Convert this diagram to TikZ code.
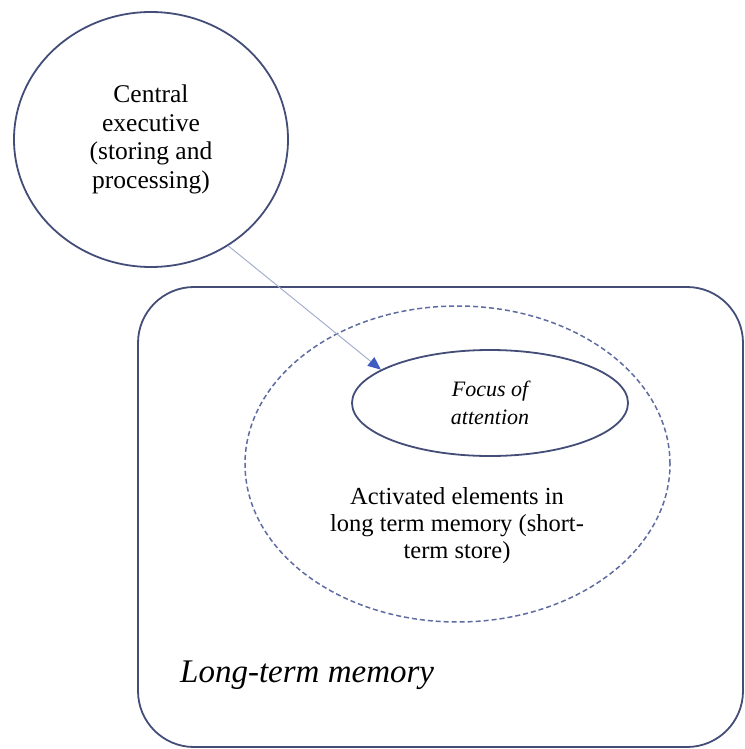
\documentclass[tikz,border=0pt]{standalone}
\usepackage{fontspec}
\setmainfont{Liberation Serif}
\usetikzlibrary{shapes.geometric,arrows.meta}
\definecolor{outline}{HTML}{434D78}
\definecolor{dashline}{HTML}{5E6CA0}
\definecolor{arrowline}{HTML}{A6AFCE}
\definecolor{arrowhead}{HTML}{3F5BC4}
\tikzset{
  x=1pt, y=-1pt,
  solidshape/.style={draw=outline, line width=1.8pt, inner sep=0pt},
  dashshape/.style={draw=dashline, line width=1.5pt, dash pattern=on 5pt off 3pt, inner sep=0pt},
  plaintext/.style={inner sep=0pt, align=center},
  linkarrow/.style={draw=arrowline, line width=1pt,
    -{Triangle[length=13pt,width=11pt,color=arrowhead,fill=arrowhead]}}
}
\begin{document}
\begin{tikzpicture}
  \useasboundingbox (0,0) rectangle (744,749);
  % long-term memory frame
  \node[solidshape, rectangle, rounded corners=56pt, minimum width=605pt, minimum height=460pt]
    (ltm) at (440.5,517) {};
  \node[plaintext, anchor=base west, font=\fontsize{33}{38}\selectfont\itshape]
    (ltmlabel) at (180,682) {Long-term memory};
  % short-term store
  \node[dashshape, ellipse, minimum width=425pt, minimum height=316pt]
    (sts) at (457.5,464) {};
  \node[plaintext, font=\fontsize{24.5}{27}\selectfont]
    (stslabel) at (457,526) {Activated elements in\\long term memory (short-\\term store)};
  % focus of attention
  \node[solidshape, ellipse, minimum width=276pt, minimum height=106pt,
        font=\fontsize{22}{28}\selectfont\itshape, align=center]
    (foc) at (490,403) {Focus of\\attention};
  % central executive
  \node[solidshape, ellipse, minimum width=274pt, minimum height=255pt,
        font=\fontsize{25.5}{28.5}\selectfont, align=center]
    (ce) at (151,139.5) {Central\\executive\\(storing and\\processing)};
  % link
  \draw[linkarrow] (ce.-54) -- (foc.163);
\end{tikzpicture}
\end{document}
